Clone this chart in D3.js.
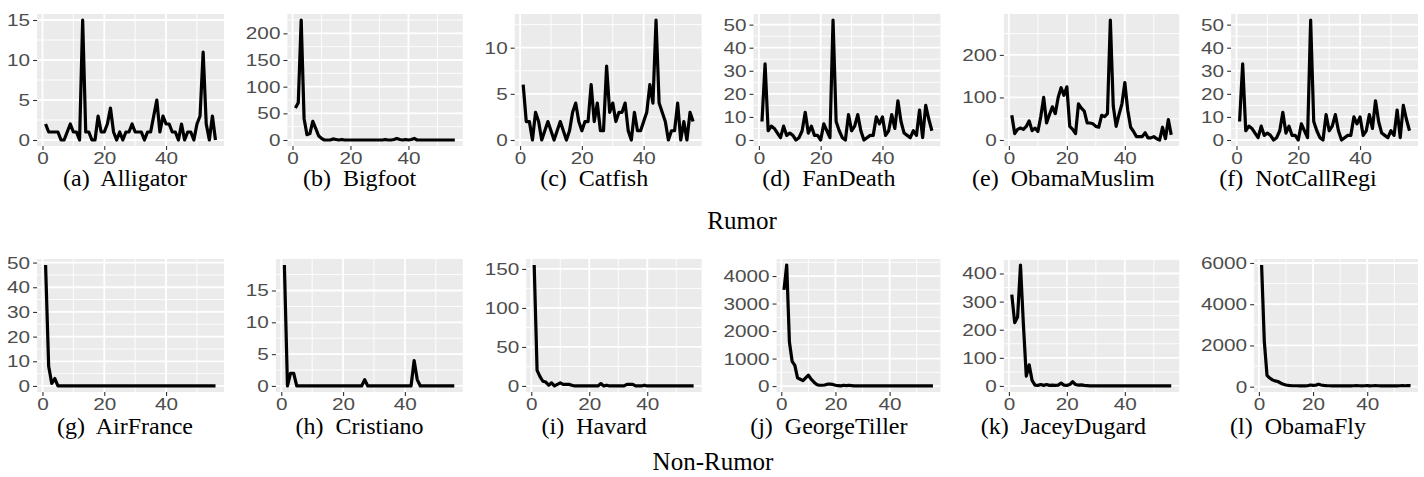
<!DOCTYPE html>
<html><head><meta charset="utf-8">
<script src="https://cdn.jsdelivr.net/npm/d3@7"></script>
<style>body{margin:0;background:#fff}svg{display:block}</style>
</head><body>
<svg id="chart" width="1424" height="477"></svg>
<script>
// ---------------- data ----------------
const days = d3.range(1, 57);
const names = ["Alligator","Bigfoot","Catfish","FanDeath","ObamaMuslim","NotCallRegi",
               "AirFrance","Cristiano","Havard","GeorgeTiller","JaceyDugard","ObamaFly"];
const letters = ["a","b","c","d","e","f","g","h","i","j","k","l"];
const rowTitles = ["Rumor","Non-Rumor"];

const alligator = [2,1,1,1,1,0,0,1,2,1, 1,0,15,1,1,0,0,3,1,1, 2,4,1,0,1,0,1,1,2,1, 1,1,0,1,1,3,5,1,3,2, 2,1,1,0,2,0,1,1,0,2, 3,11,2,0,3,0];
const bigfoot = [60,70,225,40,10,12,35,22,8,3, 0,0,0,2,1,0,1,0,0,0, 0,0,0,0,0,0,0,0,0,0, 0,1,0,0,1,3,1,0,1,0, 1,3,0,0,0,0,0,0,0,0, 0,0,0,0,0,0];
const catfish = [6,2,2,0,3,2,0,1,2,1, 0,1,2,1,0,1,3,4,2,1, 2,2,6,2,4,1,1,8,3,4, 2,3,3,4,1,0,3,1,1,2, 3,6,4,13,4,3,2,0,1,1, 4,0,2,0,3,2];
const fanDeath = [8,33,4,6,5,3,1,6,2,3, 2,0,1,4,12,3,6,2,2,0, 7,4,1,52,8,4,1,0,11,4, 6,11,4,0,1,2,2,10,7,10, 2,4,11,5,17,8,3,2,1,4, 2,13,1,15,9,4];
const obamaMuslim = [58,15,25,28,25,32,45,22,28,20, 55,100,40,60,78,62,100,123,105,125, 32,25,15,85,75,68,40,40,38,32, 30,58,55,62,282,80,32,60,85,135, 70,30,20,8,8,8,17,5,5,8, 3,0,30,3,48,12];
const notCallRegi = [8,33,4,6,5,3,1,6,2,3, 2,0,1,4,12,3,6,2,2,0, 7,4,1,52,8,4,1,0,11,4, 6,11,4,0,1,2,2,10,7,10, 2,4,11,5,17,8,3,2,1,4, 2,13,1,15,9,4];
const airFrance = [49,8,1,3,0,0,0,0,0,0, 0,0,0,0,0,0,0,0,0,0, 0,0,0,0,0,0,0,0,0,0, 0,0,0,0,0,0,0,0,0,0, 0,0,0,0,0,0,0,0,0,0, 0,0,0,0,0,0];
const cristiano = [19,0,2,2,0,0,0,0,0,0, 0,0,0,0,0,0,0,0,0,0, 0,0,0,0,0,0,1,0,0,0, 0,0,0,0,0,0,0,0,0,0, 0,0,4,1,0,0,0,0,0,0, 0,0,0,0,0,0];
const havard = [155,20,12,6,5,1,4,0,2,4, 2,2,2,1,0,0,0,0,0,0, 0,0,0,3,0,1,0,0,0,0, 0,0,2,2,2,0,0,0,1,0, 0,0,0,0,0,0,0,0,0,0, 0,0,0,0,0,0];
const georgeTiller = [3500,4400,1600,900,750,300,250,200,300,400, 250,150,60,30,30,40,70,70,60,30, 20,10,30,20,30,20,10,5,5,5, 5,5,5,5,5,5,5,5,5,5, 5,5,5,5,5,5,5,5,5,5, 5,5,5,5,5,5];
const jaceyDugard = [325,225,245,430,220,35,75,20,3,2, 5,2,5,2,3,2,3,10,3,2, 5,15,5,3,4,2,1,0,0,0, 0,0,0,0,0,0,0,0,0,0, 0,0,0,0,0,0,0,0,0,0, 0,0,0,0,0,0];
const obamaFly = [5900,2200,550,420,330,280,250,180,120,80, 60,50,45,45,40,40,40,45,80,60, 70,120,80,60,50,45,40,45,40,35, 35,40,45,40,45,50,45,40,45,50, 40,45,50,45,40,45,40,35,40,45, 40,45,50,45,55,50];

const series = [alligator,bigfoot,catfish,fanDeath,obamaMuslim,notCallRegi,
                airFrance,cristiano,havard,georgeTiller,jaceyDugard,obamaFly];

const yTickValues = [
  [0,5,10,15],[0,50,100,150,200],[0,5,10],[0,10,20,30,40,50],[0,100,200],[0,10,20,30,40,50],
  [0,10,20,30,40,50],[0,5,10,15],[0,50,100,150],[0,1000,2000,3000,4000],[0,100,200,300,400],[0,2000,4000,6000]
];
const xTickValues = [0,20,40];

// ---------------- layout ----------------
const svg = d3.select("#chart");
const rowTop = [14, 259], rowBottom = [146, 392];
const colRight0 = 224, colStep = 238.8;
const capCenter0 = 125, capStep = 234.6;
const capBaseline = [186, 434];
const titleX = [742, 713];
const titleBaseline = [229, 470];
const labelScale = 1.22;
const labelFont = 17;

function minorBetween(ticks, domain) {
  const step = ticks.length > 1 ? ticks[1] - ticks[0] : 1;
  const out = [];
  for (let v = ticks[0] - step/2; v <= domain[1]; v += step) if (v >= domain[0]) out.push(v);
  return out;
}

series.forEach((vals, i) => {
  const row = Math.floor(i / 6), col = i % 6;
  const right = colRight0 + col * colStep;
  const top = rowTop[row], bottom = rowBottom[row];
  const g = svg.append("g");

  // measure widest tick label to position panel left like ggplot
  const widest = yTickValues[i].reduce((a,b)=> String(b).length > String(a).length ? b : a, 0);
  const meas = g.append("text").attr("font-family","Liberation Sans, Arial, sans-serif")
    .attr("font-size", labelFont).text(String(widest));
  const w = meas.node().getComputedTextLength() * labelScale;
  meas.remove();
  const left = right - 210 + w;

  const yMax = d3.max(vals), yMin = d3.min(vals);
  const yPad = (yMax - yMin) * 0.05;
  const yDom = [yMin - yPad, yMax + yPad];
  const xDom = [1 - 55*0.05, 56 + 55*0.05];
  const x = d3.scaleLinear().domain(xDom).range([left, right]);
  const y = d3.scaleLinear().domain(yDom).range([bottom, top]);

  g.append("rect").attr("x", left).attr("y", top).attr("width", right-left).attr("height", bottom-top)
    .attr("fill", "#EBEBEB");

  // minor grid
  const yMinor = minorBetween(yTickValues[i], yDom);
  const xMinor = [10,30,50];
  g.selectAll(null).data(yMinor).join("line")
    .attr("x1", left).attr("x2", right).attr("y1", d=>y(d)).attr("y2", d=>y(d))
    .attr("stroke","#fff").attr("stroke-width",0.9);
  g.selectAll(null).data(xMinor).join("line")
    .attr("y1", top).attr("y2", bottom).attr("x1", d=>x(d)).attr("x2", d=>x(d))
    .attr("stroke","#fff").attr("stroke-width",0.9);
  // major grid
  g.selectAll(null).data(yTickValues[i]).join("line")
    .attr("x1", left).attr("x2", right).attr("y1", d=>y(d)).attr("y2", d=>y(d))
    .attr("stroke","#fff").attr("stroke-width",1.8);
  g.selectAll(null).data(xTickValues).join("line")
    .attr("y1", top).attr("y2", bottom).attr("x1", d=>x(d)).attr("x2", d=>x(d))
    .attr("stroke","#fff").attr("stroke-width",1.8);

  // axes
  const ya = g.append("g").attr("transform", `translate(${left},0)`)
    .call(d3.axisLeft(y).tickValues(yTickValues[i]).tickSize(4).tickPadding(3).tickFormat(d3.format("d")));
  const xa = g.append("g").attr("transform", `translate(0,${bottom})`)
    .call(d3.axisBottom(x).tickValues(xTickValues).tickSize(4).tickPadding(2).tickFormat(d3.format("d")));
  [ya, xa].forEach(a => {
    a.attr("font-size", null).attr("font-family", null);
    a.select(".domain").remove();
    a.selectAll(".tick line").attr("stroke", "#333").attr("stroke-width", 1.1);
    a.selectAll(".tick text").attr("fill", "#4D4D4D")
      .attr("font-family", "Liberation Sans, Arial, sans-serif").attr("font-size", labelFont);
  });
  ya.selectAll(".tick text").attr("x", -7 / labelScale).attr("transform", `scale(${labelScale},1)`);
  xa.selectAll(".tick text").attr("transform", `scale(${labelScale},1)`);

  // line
  const line = d3.line().x((d, k) => x(days[k])).y(d => y(d)).curve(d3.curveLinear);
  g.append("path").datum(vals).attr("d", line).attr("fill","none")
    .attr("stroke","#000").attr("stroke-width",3.2).attr("stroke-linejoin","round");

  // caption
  g.append("text").attr("x", capCenter0 + col * capStep).attr("y", capBaseline[row])
    .attr("text-anchor","middle").attr("font-family","Liberation Serif, Times New Roman, serif")
    .attr("font-size", 24).attr("fill","#000").attr("xml:space","preserve")
    .text(`(${letters[i]})  ${names[i]}`);
});

rowTitles.forEach((t, r) => {
  svg.append("text").attr("x", titleX[r]).attr("y", titleBaseline[r]).attr("text-anchor","middle")
    .attr("font-family","Liberation Serif, Times New Roman, serif").attr("font-size", 25)
    .attr("fill","#000").text(t);
});
</script>
</body></html>
